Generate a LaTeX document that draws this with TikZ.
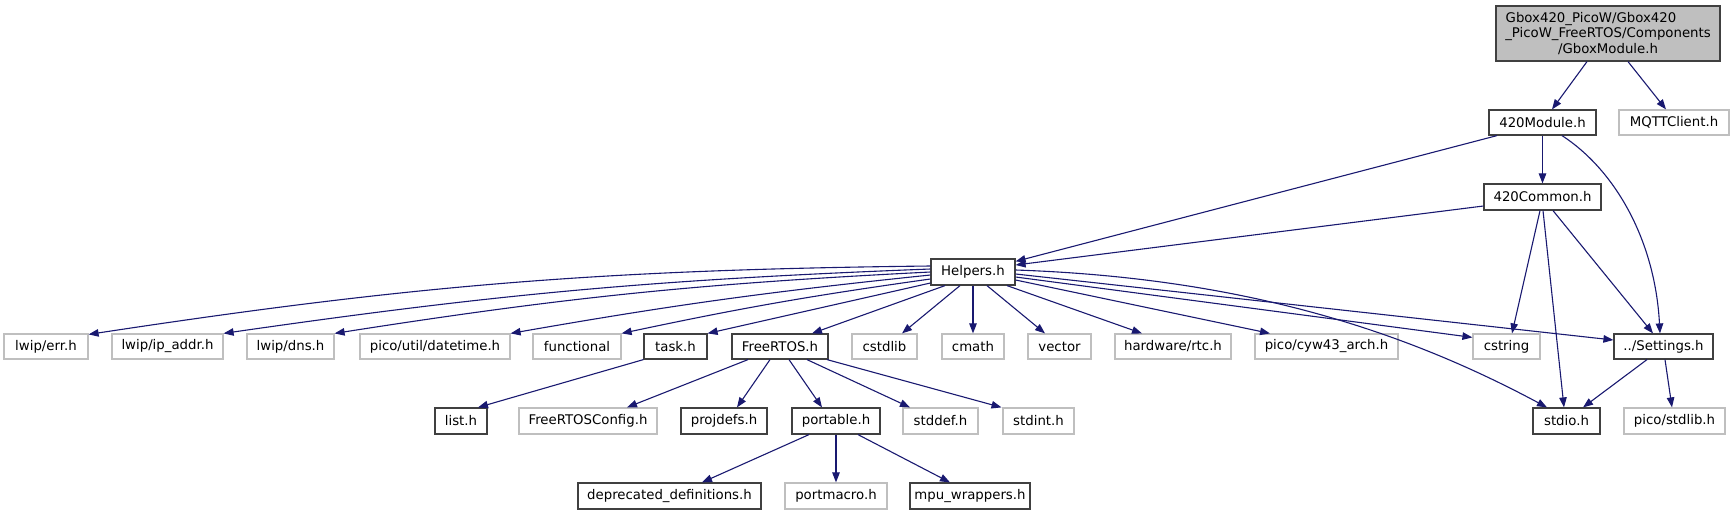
\documentclass[tikz,border=0pt]{standalone}
\usepackage{fontspec}
\setmainfont{DejaVu Sans}
\usetikzlibrary{arrows.meta}
\definecolor{edgeblue}{HTML}{191970}
\definecolor{lgrey}{HTML}{BFBFBF}
\definecolor{dgrey}{HTML}{404040}
\tikzset{
  box/.style={rectangle, inner sep=0pt, font=\fontsize{13.3}{15.5}\selectfont, text=black, line width=1.2pt},
  blk/.style={box, draw=dgrey, fill=white},
  gry/.style={box, draw=lgrey, fill=white},
  root/.style={box, draw=dgrey, fill=lgrey, align=center},
  r1/.style={minimum height=25pt},
  inc/.style={draw=edgeblue, line width=1.1pt, -{Triangle[length=10pt,width=7.5pt]}},
}
\begin{document}
\begin{tikzpicture}[x=1pt,y=-1pt]
\useasboundingbox (0,0) rectangle (1735,515);
% row 0
\node[root, minimum width=224pt, minimum height=55pt] (gbox) at (1608,33.5)
  {Gbox420\_PicoW/Gbox420\hspace*{34pt}\\\_PicoW\_FreeRTOS/Components\\/GboxModule.h};
% row 1
\node[blk, r1, minimum width=107pt] (m420) at (1542.5,122.5) {420Module.h};
\node[gry, r1, minimum width=110pt] (mqtt) at (1674,122.5) {MQTTClient.h};
% row 2
\node[blk, minimum height=26pt, minimum width=117pt] (common) at (1542.5,197) {420Common.h};
% row 3
\node[blk, minimum height=26pt, minimum width=84pt] (helpers) at (973,272) {Helpers.h};
% row 4
\node[gry, r1, minimum width=84pt] (lerr) at (46,346.5) {lwip/err.h};
\node[gry, r1, minimum width=111pt] (lip) at (167.5,346.5) {lwip/ip\_addr.h};
\node[gry, r1, minimum width=87pt] (ldns) at (290.5,346.5) {lwip/dns.h};
\node[gry, r1, minimum width=150pt] (dt) at (435,346.5) {pico/util/datetime.h};
\node[gry, r1, minimum width=88pt] (func) at (577,346.5) {functional};
\node[blk, r1, minimum width=63pt] (task) at (675.5,346.5) {task.h};
\node[blk, r1, minimum width=96pt] (frtos) at (780,346.5) {FreeRTOS.h};
\node[gry, r1, minimum width=65pt] (cstdlib) at (884.5,346.5) {cstdlib};
\node[gry, r1, minimum width=62pt] (cmath) at (973,346.5) {cmath};
\node[gry, r1, minimum width=63pt] (vector) at (1059.5,346.5) {vector};
\node[gry, r1, minimum width=116pt] (rtc) at (1173,346.5) {hardware/rtc.h};
\node[gry, r1, minimum width=143pt] (cyw) at (1326.5,346.5) {pico/cyw43\_arch.h};
\node[gry, r1, minimum width=67pt] (cstring) at (1506.5,346.5) {cstring};
\node[blk, r1, minimum width=99pt] (settings) at (1663.5,346.5) {../Settings.h};
% row 5
\node[blk, minimum height=26pt, minimum width=52pt] (list) at (461,421) {list.h};
\node[gry, minimum height=26pt, minimum width=138pt] (frcfg) at (588,421) {FreeRTOSConfig.h};
\node[blk, minimum height=26pt, minimum width=86pt] (projdefs) at (724,421) {projdefs.h};
\node[blk, minimum height=26pt, minimum width=88pt] (portable) at (836,421) {portable.h};
\node[gry, minimum height=26pt, minimum width=75pt] (stddef) at (940.5,421) {stddef.h};
\node[gry, minimum height=26pt, minimum width=71pt] (stdint) at (1038.5,421) {stdint.h};
\node[blk, minimum height=26pt, minimum width=67pt] (stdio) at (1566.5,421) {stdio.h};
\node[gry, minimum height=26pt, minimum width=101pt] (pstdlib) at (1674.5,421) {pico/stdlib.h};
% row 6
\node[blk, minimum height=26pt, minimum width=183pt] (depr) at (669.5,496) {deprecated\_definitions.h};
\node[gry, minimum height=26pt, minimum width=102pt] (pmacro) at (836,496) {portmacro.h};
\node[blk, minimum height=26pt, minimum width=120pt] (mpu) at (970,496) {mpu\_wrappers.h};

% edges
\draw[inc] ([xshift=-21pt]gbox.south) -- ([xshift=9.5pt]m420.north);
\draw[inc] ([xshift=20pt]gbox.south) -- ([xshift=-8pt]mqtt.north);
\draw[inc] ([xshift=-45.5pt]m420.south) -- ([yshift=-3pt]helpers.north east);
\draw[inc] (m420.south) -- (common.north);
\draw[inc] ([xshift=19.5pt]m420.south) .. controls (1615,170) and (1655,240) .. ([xshift=-3.5pt]settings.north);
\draw[inc] ([yshift=-9pt]common.west) -- ([yshift=7pt]helpers.east);
\draw[inc] ([xshift=-2.5pt]common.south) -- ([xshift=5.5pt]cstring.north);
\draw[inc] ([xshift=0.5pt]common.south) -- ([xshift=-2.5pt]stdio.north);
\draw[inc] ([xshift=10.5pt]common.south) -- ([xshift=-10.5pt]settings.north);

\draw[inc] ([yshift=6pt]helpers.west) to[bend right=4] ([yshift=-1pt]lerr.north east);
\draw[inc] ([yshift=3pt]helpers.west) to[bend right=3] (lip.north east);
\draw[inc] (helpers.west) to[bend right=3] (ldns.north east);
\draw[inc] ([yshift=-3pt]helpers.west) to[bend right=2] (dt.north east);
\draw[inc] ([yshift=-7pt]helpers.west) to[bend right=2] (func.north east);
\draw[inc] ([yshift=-11pt]helpers.west) -- (task.north east);
\draw[inc] ([xshift=-28pt]helpers.south) -- ([xshift=32pt]frtos.north);
\draw[inc] ([xshift=-13pt]helpers.south) -- ([xshift=17.5pt]cstdlib.north);
\draw[inc] (helpers.south) -- (cmath.north);
\draw[inc] ([xshift=14pt]helpers.south) -- ([xshift=-14.5pt]vector.north);
\draw[inc] ([xshift=34pt]helpers.south) -- ([xshift=-31pt]rtc.north);
\draw[inc] ([yshift=-8pt]helpers.east) -- ([xshift=-56.5pt]cyw.north);
\draw[inc] ([yshift=-5pt]helpers.east) -- ([yshift=-4pt]cstring.north west);
\draw[inc] ([yshift=-2pt]helpers.east) -- ([yshift=6.5pt]settings.west);
\draw[inc] ([yshift=2pt]helpers.east) .. controls (1250,278) and (1410,334) .. ([xshift=-19.5pt]stdio.north);

\draw[inc] ([xshift=-16.5pt]settings.south) -- ([xshift=16.5pt]stdio.north);
\draw[inc] ([xshift=1.5pt]settings.south) -- ([xshift=-2.5pt]pstdlib.north);

\draw[inc] (task.south west) -- ([xshift=17pt]list.north);
\draw[inc] ([xshift=-32pt]frtos.south) -- ([xshift=39pt]frcfg.north);
\draw[inc] ([xshift=-10pt]frtos.south) -- ([xshift=13pt]projdefs.north);
\draw[inc] ([xshift=9pt]frtos.south) -- ([xshift=-14pt]portable.north);
\draw[inc] ([xshift=27pt]frtos.south) -- ([xshift=-30.5pt]stddef.north);
\draw[inc] ([xshift=47pt]frtos.south) -- ([xshift=-37pt]stdint.north);

\draw[inc] ([xshift=-27pt]portable.south) -- ([xshift=32.5pt]depr.north);
\draw[inc] (portable.south) -- (pmacro.north);
\draw[inc] ([xshift=22pt]portable.south) -- ([xshift=-20pt]mpu.north);
\end{tikzpicture}
\end{document}
